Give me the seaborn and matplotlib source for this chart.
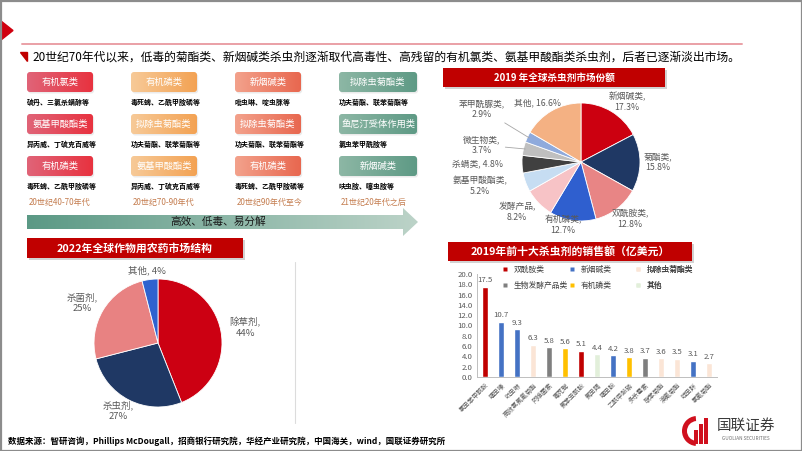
import numpy as np
import pandas as pd
import matplotlib
matplotlib.use('Agg')
import matplotlib.pyplot as plt
import seaborn as sns
from matplotlib.patches import FancyBboxPatch, Polygon, Rectangle, Wedge
from matplotlib.colors import to_rgb
from matplotlib.lines import Line2D

# ---------------- data ----------------
subtitle = "20世纪70年代以来，低毒的菊酯类、新烟碱类杀虫剂逐渐取代高毒性、高残留的有机氯类、氨基甲酸酯类杀虫剂，后者已逐渐淡出市场。"

era_labels = ["20世纪40-70年代", "20世纪70-90年代", "20世纪90年代至今", "21世纪20年代之后"]
box_labels = [
    ["有机氯类", "氨基甲酸酯类", "有机磷类"],
    ["有机磷类", "拟除虫菊酯类", "氨基甲酸酯类"],
    ["新烟碱类", "拟除虫菊酯类", "有机磷类"],
    ["拟除虫菊酯类", "鱼尼汀受体作用类", "新烟碱类"],
]
box_examples = [
    ["硫丹、三氯杀螨醇等", "异丙威、丁硫克百威等", "毒死蜱、乙酰甲胺磷等"],
    ["毒死蜱、乙酰甲胺磷等", "功夫菊酯、联苯菊酯等", "异丙威、丁硫克百威等"],
    ["吡虫啉、啶虫脒等", "功夫菊酯、联苯菊酯等", "毒死蜱、乙酰甲胺磷等"],
    ["功夫菊酯、联苯菊酯等", "氯虫苯甲酰胺等", "呋虫胺、噻虫胺等"],
]
arrow_text = "高效、低毒、易分解"

pie1_title = "2022年全球作物用农药市场结构"
pie1_names = ["除草剂", "杀虫剂", "杀菌剂", "其他"]
pie1_values = [44, 27, 25, 4]

pie2_title = "2019 年全球杀虫剂市场份额"
pie2_names = ["新烟碱类", "菊酯类", "双酰胺类", "有机磷类", "发酵产品", "氨基甲酸酯类",
              "杀螨类", "微生物类", "苯甲酰脲类", "其他"]
pie2_values = [17.3, 15.8, 12.8, 12.7, 8.2, 5.2, 4.8, 3.7, 2.9, 16.6]

bar_title = "2019年前十大杀虫剂的销售额（亿美元）"
bar_names = ["氯虫苯甲酰胺", "噻虫嗪", "吡虫啉", "高效氯氟氰菊酯", "阿维菌素", "毒死蜱",
             "氟苯虫酰胺", "氟虫腈", "噻虫胺", "乙酰甲胺磷", "多杀霉素", "联苯菊酯",
             "溴氰菊酯", "啶虫脒", "氯氰菊酯"]
bar_values = [17.5, 10.7, 9.3, 6.3, 5.8, 5.6, 5.1, 4.4, 4.2, 3.8, 3.7, 3.6, 3.5, 3.1, 2.7]
bar_classes = ["双酰胺类", "新烟碱类", "新烟碱类", "拟除虫菊酯类", "生物发酵产品类", "有机磷类",
               "双酰胺类", "其他", "新烟碱类", "有机磷类", "生物发酵产品类", "拟除虫菊酯类",
               "拟除虫菊酯类", "新烟碱类", "拟除虫菊酯类"]
class_order = ["双酰胺类", "生物发酵产品类", "新烟碱类", "有机磷类", "拟除虫菊酯类", "其他"]

source_text = "数据来源：智研咨询，Phillips McDougall，招商银行研究院，华经产业研究院，中国海关，wind，国联证券研究所"

# ---------------- style ----------------
sns.set_theme(style='white')
plt.rcParams['font.family'] = ['Noto Sans CJK SC', 'DejaVu Sans']
plt.rcParams['axes.unicode_minus'] = False

W, H = 802, 451
fig = plt.figure(figsize=(W / 100, H / 100), dpi=100)
fig.patch.set_facecolor('white')


def rect(x, y, w, h):
    return [x / W, 1 - (y + h) / H, w / W, h / H]


bg = fig.add_axes([0, 0, 1, 1], zorder=0)
bg.axis('off')
bg.set_xlim(0, W)
bg.set_ylim(H, 0)


def gradient_fill(ax, x0, y0, w, h, c1, c2, clip_patch, z=2):
    a = np.array(to_rgb(c1))
    b = np.array(to_rgb(c2))
    t = np.linspace(0, 1, 256)
    img = (a[None, :] * (1 - t[:, None]) + b[None, :] * t[:, None])[None, :, :]
    im = ax.imshow(img, extent=(x0, x0 + w, y0 + h, y0), aspect='auto',
                   zorder=z, interpolation='bilinear')
    clip_patch.set_facecolor('none')
    clip_patch.set_edgecolor('none')
    ax.add_patch(clip_patch)
    im.set_clip_path(clip_patch)
    return im


# border
bg.add_patch(Rectangle((0.5, 0.5), W - 1, H - 1, fill=False, edgecolor='#8c8c8c', lw=1.6, zorder=10))

# header
bg.add_patch(Polygon([(1, 21), (1, 40), (13, 30.5)], closed=True, color='#d0000f', zorder=3))
bg.plot([22, 742], [43.5, 43.5], color='#eaa0a6', lw=1.4, zorder=3)
bg.add_patch(Polygon([(20, 52), (27, 52), (27, 61)], closed=True, color='#c00000', zorder=3))
bg.text(32, 57, subtitle, fontsize=8.5, color='black', va='center', ha='left', zorder=4)

# timeline grid
col_x = [27, 131, 235, 339]
col_w = [66, 66, 66, 78]
row_y = [72, 114, 156]
ex_y = [102, 144, 186]
col_colors = [('#e06478', '#e8323f'), ('#f7ca98', '#f3a253'),
              ('#f3a28c', '#e8674f'), ('#8db7a5', '#5e9a85')]
for c in range(4):
    for r in range(3):
        x0, y0, w, h = col_x[c], row_y[r], col_w[c], 20
        shadow = FancyBboxPatch((x0 + 1.2, y0 + 1.5), w, h, boxstyle="round,pad=0,rounding_size=3",
                                facecolor='#000000', edgecolor='none', alpha=0.08, zorder=1)
        bg.add_patch(shadow)
        clip = FancyBboxPatch((x0, y0), w, h, boxstyle="round,pad=0,rounding_size=3")
        gradient_fill(bg, x0, y0, w, h, col_colors[c][0], col_colors[c][1], clip)
        bg.text(x0 + w / 2, y0 + h / 2, box_labels[c][r], color='white', fontsize=6.7,
                ha='center', va='center', zorder=4)
        bg.text(x0, ex_y[r], box_examples[c][r], color='black', fontsize=5.0,
                fontweight='bold', ha='left', va='center', zorder=4)
    bg.text(col_x[c] + 2, 202, era_labels[c], color='#c47c4e', fontsize=5.8,
            ha='left', va='center', zorder=4)

# arrow
arrow = Polygon([(27, 215), (403, 215), (403, 208), (418, 222), (403, 236), (403, 229), (27, 229)],
                closed=True)
gradient_fill(bg, 27, 208, 391, 28, '#5b9985', '#bcd3c8', arrow)
bg.text(218, 222, arrow_text, fontsize=7.7, color='#1a1a1a', ha='center', va='center', zorder=4)


def title_bar(x0, y0, w, h, text, fs):
    bg.add_patch(Rectangle((x0 + 2, y0 + 2), w, h, facecolor='#7f7f7f', alpha=0.35,
                           edgecolor='none', zorder=2))
    bg.add_patch(Rectangle((x0, y0), w, h, facecolor='#c00000', edgecolor='none', zorder=3))
    bg.text(x0 + w / 2, y0 + h / 2, text, color='white', fontsize=fs, fontweight='bold',
            ha='center', va='center', zorder=4)


title_bar(27, 238, 216, 20, pie1_title, 7.8)
title_bar(443, 68, 222, 19, pie2_title, 6.9)
title_bar(448, 242, 244, 19, bar_title, 7.8)

# separator line
bg.plot([295, 295], [262, 423], color='#dcdcdc', lw=0.8, zorder=1)


# ---------------- pies ----------------
def mid_point(values, i, r=1.0):
    total = float(sum(values))
    before = sum(values[:i])
    ang = np.deg2rad(90 - 360 * (before + values[i] / 2) / total)
    return r * np.cos(ang), r * np.sin(ang)


# pie 1
cx1, cy1, r1 = 158, 343, 64
ax1 = fig.add_axes(rect(cx1 - r1, cy1 - r1, 2 * r1, 2 * r1), zorder=2)
pie1_colors = ['#cc0012', '#1f3864', '#e88282', '#2f62cf']
ax1.pie(pie1_values, colors=pie1_colors, startangle=90, counterclock=False,
        wedgeprops=dict(edgecolor='white', linewidth=0.6))
ax1.set_xlim(-1, 1)
ax1.set_ylim(-1, 1)
pie1_label_pos = [(245, 328), (118, 411), (82, 303), (147, 270)]
for i, (n, v) in enumerate(zip(pie1_names, pie1_values)):
    txt = f"{n}, {v}%" if n == "其他" else f"{n},\n{v}%"
    px, py = pie1_label_pos[i]
    ax1.annotate(txt, xy=mid_point(pie1_values, i), xytext=(px, H - py), textcoords='figure pixels',
                 ha='center', va='center', fontsize=6.8, color='#595959', annotation_clip=False,
                 linespacing=1.25)

# pie 2
cx2, cy2, r2 = 581, 162, 59
ax2 = fig.add_axes(rect(cx2 - r2, cy2 - r2, 2 * r2, 2 * r2), zorder=2)
pie2_colors = ['#cc0010', '#1f3864', '#e88585', '#2f5fcf', '#f7c3c6', '#c6ddf2',
               '#404040', '#bfbfbf', '#8faadc', '#f4b183']
ax2.pie(pie2_values, colors=pie2_colors, startangle=90, counterclock=False,
        wedgeprops=dict(edgecolor='white', linewidth=0.6))
ax2.set_xlim(-1, 1)
ax2.set_ylim(-1, 1)
pie2_label_pos = [(627, 102), (658, 162), (630, 219), (563, 225), (517, 212), (480, 186),
                  (478, 164), (482, 145), (482, 109), (537, 103)]
single_line = {"杀螨类", "其他"}
leader = {"微生物类", "苯甲酰脲类"}
for i, (n, v) in enumerate(zip(pie2_names, pie2_values)):
    txt = f"{n}, {v}%" if n in single_line else f"{n},\n{v}%"
    px, py = pie2_label_pos[i]
    kw = {}
    if n in leader:
        kw['arrowprops'] = dict(arrowstyle='-', color='#a6a6a6', lw=0.6, shrinkA=1, shrinkB=0)
    ax2.annotate(txt, xy=mid_point(pie2_values, i, 0.97), xytext=(px, H - py),
                 textcoords='figure pixels', ha='center', va='center', fontsize=6.3,
                 color='#595959', annotation_clip=False, linespacing=1.25, **kw)

# ---------------- bar chart ----------------
palette = {"双酰胺类": '#c00000', "新烟碱类": '#4472c4', "拟除虫菊酯类": '#fbe5d6',
           "生物发酵产品类": '#7f7f7f', "有机磷类": '#ffc000', "其他": '#e2efda'}
df = pd.DataFrame({'name': bar_names, 'value': bar_values, 'cls': bar_classes})
axb = fig.add_axes(rect(477, 274, 240, 103), zorder=2)
sns.barplot(data=df, x='name', y='value', hue='cls', hue_order=class_order, palette=palette,
            dodge=False, width=0.4, ax=axb, legend=False, saturation=1)
axb.set_ylim(0, 20)
axb.set_xlim(-0.5, len(bar_names) - 0.5)
axb.set_yticks(np.arange(0, 20.1, 2))
axb.set_yticklabels([f"{t:.1f}" for t in np.arange(0, 20.1, 2)], fontsize=5.6, color='#595959')
axb.set_xticks(range(len(bar_names)))
axb.set_xticklabels(bar_names, rotation=45, ha='right', rotation_mode='anchor',
                    fontsize=4.6, color='#595959')
axb.set_xlabel('')
axb.set_ylabel('')
axb.tick_params(axis='both', length=0, pad=3)
axb.set_facecolor('none')
for s in ['top', 'right']:
    axb.spines[s].set_visible(False)
for s in ['left', 'bottom']:
    axb.spines[s].set_color('#bfbfbf')
    axb.spines[s].set_linewidth(0.7)
for i, v in enumerate(bar_values):
    axb.text(i, v + 0.5, f"{v:.1f}", ha='center', va='bottom', fontsize=5.6, color='#595959')

# legend: three columns of two rows
leg_cols = [["双酰胺类", "生物发酵产品类"], ["新烟碱类", "有机磷类"], ["拟除虫菊酯类", "其他"]]
leg_x = [502, 569, 635]
legs = []
for cols, lx in zip(leg_cols, leg_x):
    handles = [Line2D([], [], marker='s', linestyle='none', markersize=3.2,
                      markerfacecolor=palette[c], markeredgecolor='none') for c in cols]
    lg = axb.legend(handles, cols, loc='upper left', bbox_to_anchor=(lx / W, 1 - 266 / H),
                    bbox_transform=fig.transFigure, frameon=False, fontsize=5.6,
                    handlelength=0.8, handletextpad=0.7, labelspacing=1.0,
                    borderpad=0, borderaxespad=0, labelcolor='#404040')
    legs.append(lg)
    axb.add_artist(lg)

# ---------------- footer / logo ----------------
bg.text(8, 441, source_text, fontsize=6.1, fontweight='bold', color='black', ha='left', va='center',
        zorder=4)
bg.add_patch(Wedge((697, 431), 15, 95, 265, width=5, facecolor='#d0101e', edgecolor='none', zorder=4))
for bx, bh in [(694, 14), (699, 20), (704, 26)]:
    bg.add_patch(Rectangle((bx, 444 - bh), 3.5, bh, facecolor='#d0101e', edgecolor='none', zorder=4))
bg.text(746, 426, "国联证券", fontsize=10.5, color='#3a3a3a', ha='center', va='center', zorder=4)
bg.text(746, 439, "GUOLIAN SECURITIES", fontsize=3.4, color='#6f6f6f', ha='center', va='center',
        zorder=4)

bg.set_xlim(0, W)
bg.set_ylim(H, 0)

fig.savefig('out.png', dpi=100, facecolor='white')
